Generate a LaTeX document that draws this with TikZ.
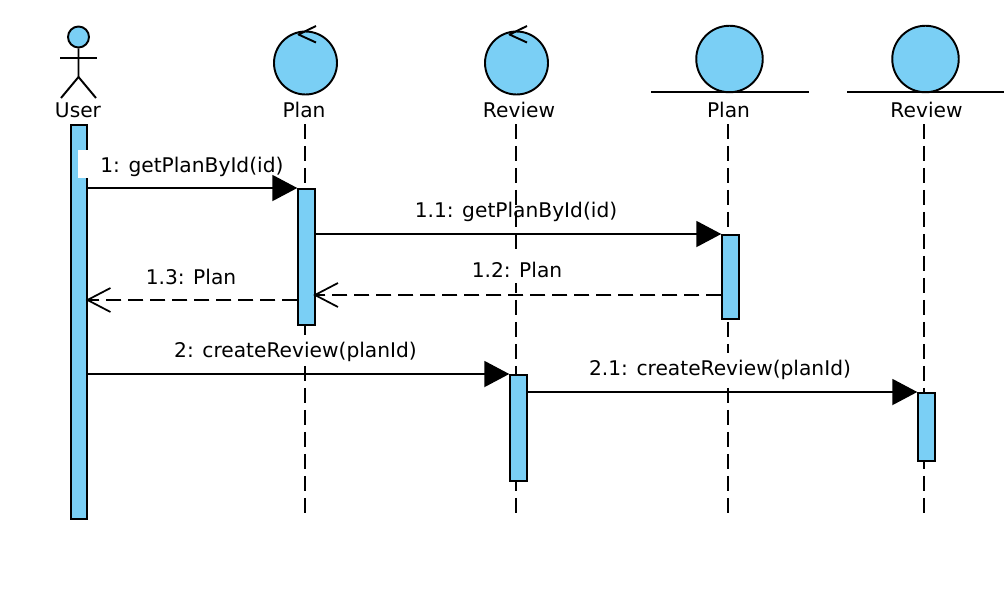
\documentclass[tikz,border=0pt]{standalone}
\usepackage{fontspec}
\usetikzlibrary{arrows.meta}
\setmainfont{DejaVu Sans}
\definecolor{umlblue}{HTML}{7ACFF5}
\tikzset{
  bar/.style={draw=black,fill=umlblue,line width=1.1pt,minimum width=16.5*0.02cm,inner sep=0pt,anchor=north},
  lifeline/.style={line width=1.1pt,dash pattern=on 0.3cm off 0.14cm},
  msg/.style={line width=1.1pt,-{Triangle[length=0.5cm,width=0.52cm]}},
  reply/.style={line width=1.1pt,dash pattern=on 0.3cm off 0.14cm,shorten >=-1.5pt,
    -{Straight Barb[length=0.46cm,width=0.48cm,line width=1pt]},postaction={draw,-,shorten >=0pt}},
  msglabel/.style={inner xsep=2pt,inner ysep=0pt,text height=12.9pt,text depth=3pt,anchor=base,font=\fontsize{11.5pt}{13pt}\selectfont},
  whitelabel/.style={msglabel,fill=white},
  headlabel/.style={inner sep=0pt,anchor=base,font=\fontsize{11.5pt}{13pt}\selectfont},
  head/.style={draw=black,fill=umlblue,line width=1.1pt,circle,inner sep=0pt,minimum size=63*0.02cm}
}
\begin{document}
\begin{tikzpicture}[x=0.02cm,y=-0.02cm]
\useasboundingbox (0,0) rectangle (1004,592);
% actor
\node[head,minimum size=21*0.02cm] (userhead) at (78.5,37) {};
\coordinate (userhip) at (78.5,77);
\draw[line width=1.1pt] (userhead) -- (userhip) -- (61,98);
\draw[line width=1.1pt] (userhip) -- (96,98);
\draw[line width=1.1pt] (60,58) -- (97,58);
\node[headlabel] (userlabel) at (78,117.3) {User};
% control objects
\foreach \nm/\cx/\lx/\txt in {planctl/305.5/304/Plan,reviewctl/516.5/519/Review}{
  \node[head] (\nm) at (\cx,63) {};
  \draw[line width=1.1pt,line join=round] (\cx+10.5,26) -- (\cx-7,34.5) -- (\cx+10.5,42.5);
  \node[headlabel] (\nm label) at (\lx,117.3) {\txt};
}
% entity objects
\foreach \nm/\cx/\lx/\txt in {planent/729.5/728.5/Plan,reviewent/925.5/926.5/Review}{
  \node[head,minimum size=66.5*0.02cm] (\nm) at (\cx,59) {};
  \draw[line width=1.1pt] (\cx-78.5,92) -- (\cx+79.5,92);
  \node[headlabel] (\nm label) at (\lx,117.3) {\txt};
}
% lifeline ends
\foreach \nm/\cx in {planctl/305,reviewctl/516,planent/728,reviewent/924}{
  \coordinate (\nm top) at (\cx,124);
  \coordinate (\nm end) at (\cx,515);
  \draw[lifeline] (\nm top) -- (\nm end);
}
% activations
\node[bar,minimum height=394*0.02cm] (baruser) at (79,124) {};
\node[bar,minimum height=136*0.02cm] (barplanctl) at (306.5,188) {};
\node[bar,minimum height=106*0.02cm] (barreviewctl) at (518.5,374) {};
\node[bar,minimum height=84*0.02cm] (barplanent) at (730.5,234) {};
\node[bar,minimum height=68*0.02cm] (barreviewent) at (926.5,392) {};
% labels, most of them over the lifelines
\node[whitelabel,anchor=base west] (m1) at (78,172.7) {\hspace*{10.5pt}1: getPlanById(id)};
\node[msglabel] (m11) at (516,217.3) {1.1: getPlanById(id)};
\node[whitelabel] (m12) at (517,277.3) {1.2: Plan};
\node[whitelabel] (m13) at (191,284) {1.3: Plan};
\node[whitelabel] (m2) at (295.5,357.3) {2: createReview(planId)};
\node[whitelabel] (m21) at (720,375.7) {2.1: createReview(planId)};
% messages
\draw[msg] (baruser.east |- barplanctl.north) -- (barplanctl.north west);
\draw[msg] (barplanctl.east |- barplanent.north) -- (barplanent.north west);
\draw[msg] (baruser.east |- barreviewctl.north) -- (barreviewctl.north west);
\draw[msg] (barreviewctl.east |- barreviewent.north) -- (barreviewent.north west);
\coordinate (r12) at (0,295);
\coordinate (r13) at (0,300);
\draw[reply] (barplanent.west |- r12) -- (barplanctl.east |- r12);
\draw[reply] (barplanctl.west |- r13) -- (baruser.east |- r13);
\end{tikzpicture}
\end{document}
